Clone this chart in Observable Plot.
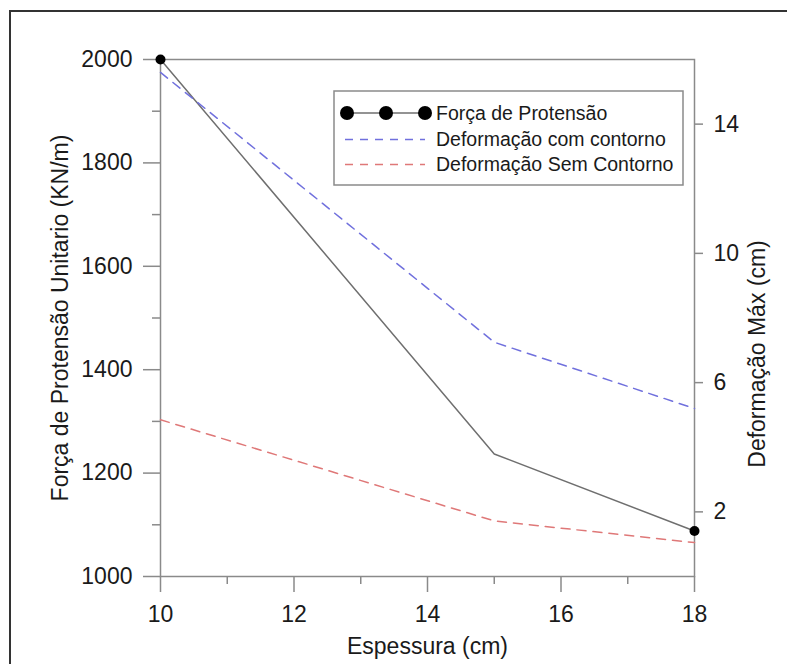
<!DOCTYPE html>
<html>
<head>
<meta charset="utf-8">
<script src="https://cdn.jsdelivr.net/npm/d3@7"></script>
<script src="https://cdn.jsdelivr.net/npm/@observablehq/plot@0.6"></script>
<style>
  html, body { margin: 0; padding: 0; background: #fff; overflow: hidden; }
  #wrap { position: relative; width: 787px; height: 664px; overflow: hidden; font-family: "Liberation Sans", Arial, sans-serif; }
  #outer { position: absolute; left: 9px; top: 10px; width: 900px; height: 900px; border-left: 2px solid #333; border-top: 2px solid #333; }
</style>
</head>
<body>
<div id="wrap"><div id="outer"></div></div>
<script>
// ---- data ----
const espessura = [10, 15, 18];
const forcaProtensao = [2000, 1237, 1088];
const defComContorno = [15.6, 7.25, 5.2];
const defSemContorno = [4.85, 1.72, 1.05];

const xTicks = [10, 12, 14, 16, 18];
const xMinorTicks = [11, 13, 15, 17];
const yTicks = [1000, 1200, 1400, 1600, 1800, 2000];
const yMinorTicks = [1100, 1300, 1500, 1700, 1900];
const rightTicks = [2, 6, 10, 14];

const seriesNames = ["Força de Protensão", "Deformação com contorno", "Deformação Sem Contorno"];
const seriesColors = ["#6f6f6f", "#7070dd", "#df7878"];

// left axis domain [1000,2000] <-> right axis domain [0,16]
const yDomain = [1000, 2000];
const rightDomain = [0, 16];
const toLeft = v => yDomain[0] + (v - rightDomain[0]) * (yDomain[1] - yDomain[0]) / (rightDomain[1] - rightDomain[0]);
const toRight = v => rightDomain[0] + (v - yDomain[0]) * (rightDomain[1] - rightDomain[0]) / (yDomain[1] - yDomain[0]);

const rows = espessura.map((e, i) => ({
  e, f: forcaProtensao[i], c: defComContorno[i], s: defSemContorno[i]
}));
const endPoints = [rows[0], rows[rows.length - 1]];

const axisGray = "#8a8a8a";

const chart = Plot.plot({
  width: 787,
  height: 664,
  marginLeft: 160,
  marginRight: 93,
  marginTop: 59,
  marginBottom: 88,
  x: { domain: [10, 18] },
  y: { domain: yDomain },
  style: { fontFamily: "'Liberation Sans', Arial, sans-serif", fontSize: "23px", color: "#1a1a1a", background: "transparent" },
  marks: [
    Plot.frame({ stroke: axisGray, strokeWidth: 1.5 }),
    Plot.axisX(xTicks, { tickSize: 16, tickPadding: 13, stroke: axisGray, strokeWidth: 1.5, label: null, tickFormat: d => String(d) }),
    Plot.axisX(xMinorTicks, { tickSize: 8, tickFormat: () => "", stroke: axisGray, strokeWidth: 1.5, label: null }),
    Plot.axisY(yTicks, { anchor: "left", tickSize: 17, tickPadding: 11, stroke: axisGray, strokeWidth: 1.5, label: null, tickFormat: d => String(d) }),
    Plot.axisY(yMinorTicks, { anchor: "left", tickSize: 8, tickFormat: () => "", stroke: axisGray, strokeWidth: 1.5, label: null }),
    Plot.axisY(rightTicks.map(toLeft), { anchor: "right", tickSize: 8, tickPadding: 11, stroke: axisGray, strokeWidth: 1.5, label: null,
      tickFormat: d => String(Math.round(toRight(d))) }),
    Plot.line(rows, { x: "e", y: "f", stroke: seriesColors[0], strokeWidth: 1.5 }),
    Plot.line(rows, { x: "e", y: d => toLeft(d.c), stroke: seriesColors[1], strokeWidth: 1.5, strokeDasharray: "9,7" }),
    Plot.line(rows, { x: "e", y: d => toLeft(d.s), stroke: seriesColors[2], strokeWidth: 1.5, strokeDasharray: "9,7" }),
    Plot.dot(endPoints, { x: "e", y: "f", r: 5, fill: "black" }),
    Plot.text(["Espessura (cm)"], { text: d => d, frameAnchor: "bottom", textAnchor: "middle", lineAnchor: "middle", dy: 70, fontSize: 23, fill: "#1a1a1a" }),
    Plot.text(["Força de Protensão Unitario (KN/m)"], { text: d => d, frameAnchor: "left", textAnchor: "middle", lineAnchor: "middle", dx: -100, rotate: -90, fontSize: 23, fill: "#1a1a1a" }),
    Plot.text(["Deformação Máx (cm)"], { text: d => d, frameAnchor: "right", textAnchor: "middle", lineAnchor: "middle", dx: 63, dy: 36, rotate: -90, fontSize: 23, fill: "#1a1a1a" })
  ]
});
chart.style.position = "absolute";
chart.style.left = "0px";
chart.style.top = "0px";
document.getElementById("wrap").appendChild(chart);

// ---- legend (overlay) ----
const lg = d3.select("#wrap").append("svg")
  .attr("width", 787).attr("height", 664)
  .style("position", "absolute").style("left", "0px").style("top", "0px");
lg.append("rect").attr("x", 334).attr("y", 91).attr("width", 349).attr("height", 94)
  .attr("fill", "white").attr("stroke", axisGray).attr("stroke-width", 1.5);
const rowY = [113, 139.5, 164.5];
lg.append("line").attr("x1", 347).attr("x2", 425).attr("y1", rowY[0]).attr("y2", rowY[0])
  .attr("stroke", seriesColors[0]).attr("stroke-width", 1.5);
[347, 386, 425].forEach(cx => lg.append("circle").attr("cx", cx).attr("cy", rowY[0]).attr("r", 7).attr("fill", "black"));
[1, 2].forEach(i => lg.append("line").attr("x1", 345).attr("x2", 425).attr("y1", rowY[i]).attr("y2", rowY[i])
  .attr("stroke", seriesColors[i]).attr("stroke-width", 1.5).attr("stroke-dasharray", "8,7"));
seriesNames.forEach((name, i) => lg.append("text").attr("x", 436).attr("y", rowY[i]).attr("dy", "0.35em")
  .attr("font-family", "'Liberation Sans', Arial, sans-serif").attr("font-size", 19.5).attr("fill", "#1a1a1a").text(name));
</script>
</body>
</html>
